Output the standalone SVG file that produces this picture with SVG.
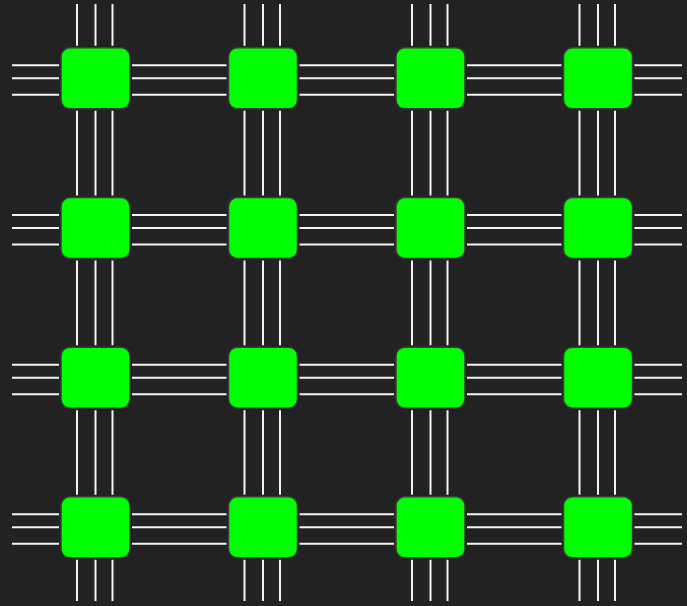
<svg xmlns="http://www.w3.org/2000/svg" width="687" height="606" viewBox="0 0 687 606">
<style>
.wire{fill:none;stroke:#f2f2f2;stroke-width:2;stroke-linecap:butt}
.node rect{fill:#00ff00;stroke:#3a3a3a;stroke-width:1.5}
</style>
<rect width="687" height="606" fill="#222222"/>
<g id="connectors">
<path class="wire" d="M12 65.3H59M132 65.3H179.25M179.25 65.3H226.5M299.5 65.3H346.75M346.75 65.3H394M467 65.3H514.25M514.25 65.3H561.5M634.5 65.3H682"/>
<path class="wire" d="M12 78.3H59M132 78.3H179.25M179.25 78.3H226.5M299.5 78.3H346.75M346.75 78.3H394M467 78.3H514.25M514.25 78.3H561.5M634.5 78.3H682"/>
<path class="wire" d="M12 94.8H59M132 94.8H179.25M179.25 94.8H226.5M299.5 94.8H346.75M346.75 94.8H394M467 94.8H514.25M514.25 94.8H561.5M634.5 94.8H682"/>
<path class="wire" d="M12 215H59M132 215H179.25M179.25 215H226.5M299.5 215H346.75M346.75 215H394M467 215H514.25M514.25 215H561.5M634.5 215H682"/>
<path class="wire" d="M12 228H59M132 228H179.25M179.25 228H226.5M299.5 228H346.75M346.75 228H394M467 228H514.25M514.25 228H561.5M634.5 228H682"/>
<path class="wire" d="M12 244.5H59M132 244.5H179.25M179.25 244.5H226.5M299.5 244.5H346.75M346.75 244.5H394M467 244.5H514.25M514.25 244.5H561.5M634.5 244.5H682"/>
<path class="wire" d="M12 364.7H59M132 364.7H179.25M179.25 364.7H226.5M299.5 364.7H346.75M346.75 364.7H394M467 364.7H514.25M514.25 364.7H561.5M634.5 364.7H682"/>
<path class="wire" d="M12 377.7H59M132 377.7H179.25M179.25 377.7H226.5M299.5 377.7H346.75M346.75 377.7H394M467 377.7H514.25M514.25 377.7H561.5M634.5 377.7H682"/>
<path class="wire" d="M12 394.2H59M132 394.2H179.25M179.25 394.2H226.5M299.5 394.2H346.75M346.75 394.2H394M467 394.2H514.25M514.25 394.2H561.5M634.5 394.2H682"/>
<path class="wire" d="M12 514.3H59M132 514.3H179.25M179.25 514.3H226.5M299.5 514.3H346.75M346.75 514.3H394M467 514.3H514.25M514.25 514.3H561.5M634.5 514.3H682"/>
<path class="wire" d="M12 527.3H59M132 527.3H179.25M179.25 527.3H226.5M299.5 527.3H346.75M346.75 527.3H394M467 527.3H514.25M514.25 527.3H561.5M634.5 527.3H682"/>
<path class="wire" d="M12 543.8H59M132 543.8H179.25M179.25 543.8H226.5M299.5 543.8H346.75M346.75 543.8H394M467 543.8H514.25M514.25 543.8H561.5M634.5 543.8H682"/>
<path class="wire" d="M77 4V45.8M77 110.8V153.15M77 153.15V195.5M77 260.5V302.85M77 302.85V345.2M77 410.2V452.5M77 452.5V494.8M77 559.8V601"/>
<path class="wire" d="M95.5 4V45.8M95.5 110.8V153.15M95.5 153.15V195.5M95.5 260.5V302.85M95.5 302.85V345.2M95.5 410.2V452.5M95.5 452.5V494.8M95.5 559.8V601"/>
<path class="wire" d="M112.5 4V45.8M112.5 110.8V153.15M112.5 153.15V195.5M112.5 260.5V302.85M112.5 302.85V345.2M112.5 410.2V452.5M112.5 452.5V494.8M112.5 559.8V601"/>
<path class="wire" d="M244.5 4V45.8M244.5 110.8V153.15M244.5 153.15V195.5M244.5 260.5V302.85M244.5 302.85V345.2M244.5 410.2V452.5M244.5 452.5V494.8M244.5 559.8V601"/>
<path class="wire" d="M263 4V45.8M263 110.8V153.15M263 153.15V195.5M263 260.5V302.85M263 302.85V345.2M263 410.2V452.5M263 452.5V494.8M263 559.8V601"/>
<path class="wire" d="M280 4V45.8M280 110.8V153.15M280 153.15V195.5M280 260.5V302.85M280 302.85V345.2M280 410.2V452.5M280 452.5V494.8M280 559.8V601"/>
<path class="wire" d="M412 4V45.8M412 110.8V153.15M412 153.15V195.5M412 260.5V302.85M412 302.85V345.2M412 410.2V452.5M412 452.5V494.8M412 559.8V601"/>
<path class="wire" d="M430.5 4V45.8M430.5 110.8V153.15M430.5 153.15V195.5M430.5 260.5V302.85M430.5 302.85V345.2M430.5 410.2V452.5M430.5 452.5V494.8M430.5 559.8V601"/>
<path class="wire" d="M447.5 4V45.8M447.5 110.8V153.15M447.5 153.15V195.5M447.5 260.5V302.85M447.5 302.85V345.2M447.5 410.2V452.5M447.5 452.5V494.8M447.5 559.8V601"/>
<path class="wire" d="M579.5 4V45.8M579.5 110.8V153.15M579.5 153.15V195.5M579.5 260.5V302.85M579.5 302.85V345.2M579.5 410.2V452.5M579.5 452.5V494.8M579.5 559.8V601"/>
<path class="wire" d="M598 4V45.8M598 110.8V153.15M598 153.15V195.5M598 260.5V302.85M598 302.85V345.2M598 410.2V452.5M598 452.5V494.8M598 559.8V601"/>
<path class="wire" d="M615 4V45.8M615 110.8V153.15M615 153.15V195.5M615 260.5V302.85M615 302.85V345.2M615 410.2V452.5M615 452.5V494.8M615 559.8V601"/>
</g>
<g id="n-1-1" class="node"><rect x="61" y="47.8" width="69" height="61" rx="9"/></g>
<g id="n-1-2" class="node"><rect x="228.5" y="47.8" width="69" height="61" rx="9"/></g>
<g id="n-1-3" class="node"><rect x="396" y="47.8" width="69" height="61" rx="9"/></g>
<g id="n-1-4" class="node"><rect x="563.5" y="47.8" width="69" height="61" rx="9"/></g>
<g id="n-2-1" class="node"><rect x="61" y="197.5" width="69" height="61" rx="9"/></g>
<g id="n-2-2" class="node"><rect x="228.5" y="197.5" width="69" height="61" rx="9"/></g>
<g id="n-2-3" class="node"><rect x="396" y="197.5" width="69" height="61" rx="9"/></g>
<g id="n-2-4" class="node"><rect x="563.5" y="197.5" width="69" height="61" rx="9"/></g>
<g id="n-3-1" class="node"><rect x="61" y="347.2" width="69" height="61" rx="9"/></g>
<g id="n-3-2" class="node"><rect x="228.5" y="347.2" width="69" height="61" rx="9"/></g>
<g id="n-3-3" class="node"><rect x="396" y="347.2" width="69" height="61" rx="9"/></g>
<g id="n-3-4" class="node"><rect x="563.5" y="347.2" width="69" height="61" rx="9"/></g>
<g id="n-4-1" class="node"><rect x="61" y="496.8" width="69" height="61" rx="9"/></g>
<g id="n-4-2" class="node"><rect x="228.5" y="496.8" width="69" height="61" rx="9"/></g>
<g id="n-4-3" class="node"><rect x="396" y="496.8" width="69" height="61" rx="9"/></g>
<g id="n-4-4" class="node"><rect x="563.5" y="496.8" width="69" height="61" rx="9"/></g>
</svg>
